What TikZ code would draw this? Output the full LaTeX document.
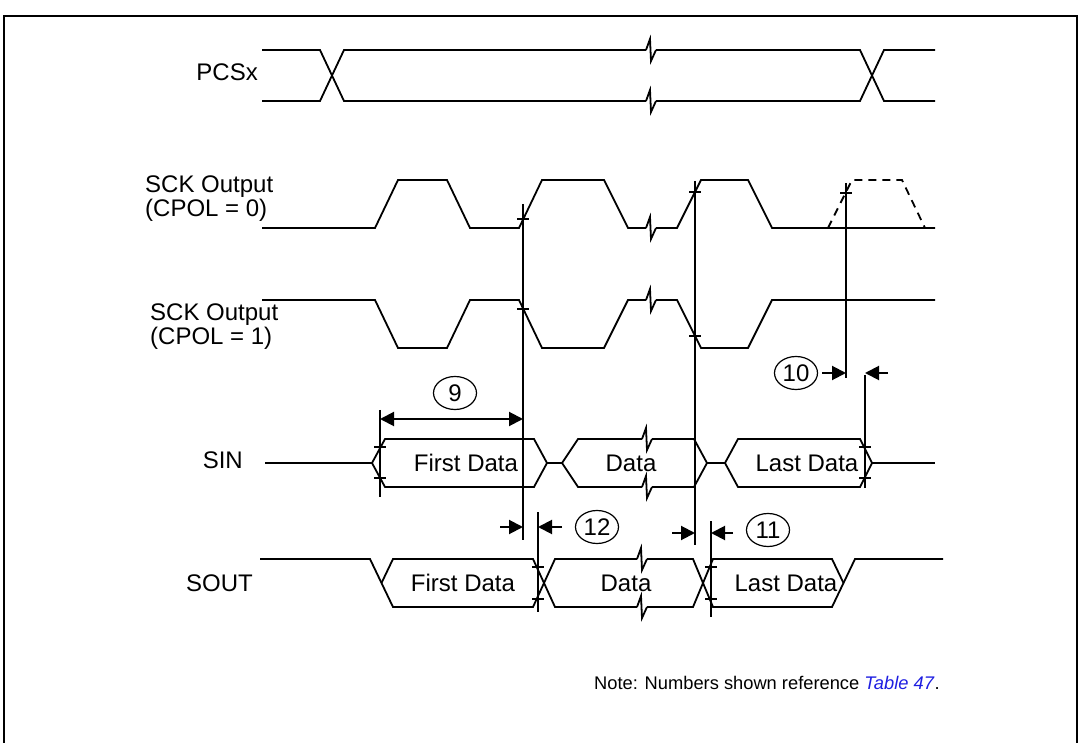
\documentclass[tikz,border=0pt]{standalone}
\usepackage{fontspec}
\setmainfont{Liberation Sans}
\usetikzlibrary{arrows.meta,positioning,calc,shapes.geometric}
\definecolor{noteblue}{RGB}{30,30,225}

\tikzset{
  sig/.style={line width=1.8pt, line join=miter},
  cursor/.style={line width=2.2pt},
  tick/.style={line width=2pt},
  dim/.style={line width=2pt, -{Triangle[length=14pt,width=14pt]}},
  num/.style={draw, ellipse, line width=1.2pt, minimum width=43pt,
              minimum height=33pt, inner sep=0pt, font=\fontsize{24}{24}\selectfont},
  brk/.pic={\draw[sig] (-5,0) -- (-1,-11) -- (0,11) -- (5,0);}
}

\begin{document}
\begin{tikzpicture}[x=1pt, y=-1pt, font=\fontsize{24}{24}\selectfont]
  \useasboundingbox (0,0) rectangle (1080,743);
  % frame
  \draw[line width=2.4pt] (4,743) -- (4,16) -- (1077,16) -- (1077,743);

  % signal names
  \node[anchor=east, inner sep=0pt](pcs) at (258,72){PCSx};
  \node[anchor=west, align=left, inner sep=0pt](sck0) at (145,199){SCK Output\\(CPOL = 0)};
  \node[anchor=west, align=left, inner sep=0pt](sck1) at (150,327){SCK Output\\(CPOL = 1)};
  \node[anchor=east, inner sep=0pt](sin) at (243,460){SIN};
  \node[anchor=east, inner sep=0pt](sout) at (253,583){SOUT};

  % PCSx
  \draw[sig] (262,50) -- (320,50) -- (344,101) -- (646,101) (656,101) -- (860,101) -- (884,50) -- (935,50);
  \draw[sig] (262,101) -- (320,101) -- (344,50) -- (646,50) (656,50) -- (860,50) -- (884,101) -- (935,101);
  \pic at (651,50) {brk};
  \pic at (651,101) {brk};

  % SCK, CPOL = 0
  \draw[sig] (262,228) -- (375,228) -- (398,180) -- (447,180) -- (470,228) -- (519,228)
             -- (542,180) -- (604,180) -- (628,228) -- (646,228) (656,228) -- (677,228)
             -- (701,180) -- (748,180) -- (772,228) -- (935,228);
  \pic at (651,228) {brk};
  \draw[sig, dashed, dash pattern=on 8pt off 6pt] (828,228) -- (852,180) -- (902,180) -- (925,228);

  % SCK, CPOL = 1
  \draw[sig] (262,300) -- (375,300) -- (398,348) -- (447,348) -- (470,300) -- (519,300)
             -- (542,348) -- (604,348) -- (628,300) -- (646,300) (656,300) -- (677,300)
             -- (701,348) -- (748,348) -- (772,300) -- (935,300);
  \pic at (651,300) {brk};

  % SIN
  \draw[sig] (265,463) -- (372,463);
  \draw[sig] (372,463) -- (385,439) -- (534,439) -- (547,463) -- (534,487) -- (385,487) -- cycle;
  \draw[sig] (547,463) -- (562,463);
  \draw[sig] (642,439) -- (578,439) -- (562,463) -- (578,487) -- (642,487);
  \draw[sig] (652,439) -- (694,439) -- (707,463) -- (694,487) -- (652,487);
  \pic at (647,439) {brk};
  \pic at (647,487) {brk};
  \draw[sig] (707,463) -- (725,463);
  \draw[sig] (725,463) -- (738,439) -- (860,439) -- (872,463) -- (860,487) -- (738,487) -- cycle;
  \draw[sig] (872,463) -- (935,463);
  \node(sin1) at (466,463){First Data};
  \node(sin2) at (631,463){Data};
  \node(sin3) at (807,463){Last Data};

  % SOUT
  \draw[sig] (260,559) -- (370,559) -- (393,607) -- (533,607) -- (555,559) -- (637,559)
             (647,559) -- (693,559) -- (713,607) -- (832,607) -- (855,559) -- (943,559);
  \draw[sig] (381.5,583) -- (393,559) -- (533,559) -- (555,607) -- (637,607)
             (647,607) -- (693,607) -- (713,559) -- (832,559) -- (843.5,583);
  \pic at (642,559) {brk};
  \pic at (642,607) {brk};
  \node(sout1) at (463,583){First Data};
  \node(sout2) at (626,583){Data};
  \node(sout3) at (786,583){Last Data};

  % reference lines
  \coordinate (ca) at (523,204);   \coordinate (cb) at (523,540);
  \coordinate (da) at (695,181);   \coordinate (db) at (695,545);
  \coordinate (ea) at (846,183);   \coordinate (eb) at (846,378);
  \coordinate (fa) at (865,375);   \coordinate (fb) at (865,488);
  \coordinate (ga) at (380,410);   \coordinate (gb) at (380,497);
  \coordinate (ha) at (538,512);   \coordinate (hb) at (538,612);
  \coordinate (ia) at (711,521);   \coordinate (ib) at (711,617);
  \foreach \a/\b in {ca/cb, da/db, ea/eb, fa/fb, ga/gb, ha/hb, ia/ib}
    \draw[cursor] (\a) -- (\b);
  \foreach \x/\y in {523/219, 523/309, 695/192, 695/336, 846/193,
                     865/447, 865/478, 380/447, 380/478,
                     538/567, 538/599, 711/567, 711/599}
    \draw[tick] (\x-6,\y) -- (\x+6,\y);

  % timing marks
  \node[num](n9) at (455,393){9};
  \draw[dim, {Triangle[length=14pt,width=14pt]}-{Triangle[length=14pt,width=14pt]}] (380,419) -- (523,419);

  \node[num](n10) at (796,373){10};
  \draw[dim] (n10.east) ++(4,0) -- (846,373);
  \draw[dim] (888,373) -- (865,373);

  \node[num](n12) at (597,527){12};
  \draw[dim] (500,527) -- (523,527);
  \draw[dim] (562,527) -- (538,527);

  \node[num](n11) at (768,530){11};
  \draw[dim] (672,533) -- (695,533);
  \draw[dim] (733,533) -- (711,533);

  % note
  \node[anchor=west, inner sep=0pt, font=\fontsize{18.3}{20}\selectfont](note) at (594,683)
    {Note: Numbers shown reference \textcolor{noteblue}{\textit{Table 47}}.};
\end{tikzpicture}
\end{document}
